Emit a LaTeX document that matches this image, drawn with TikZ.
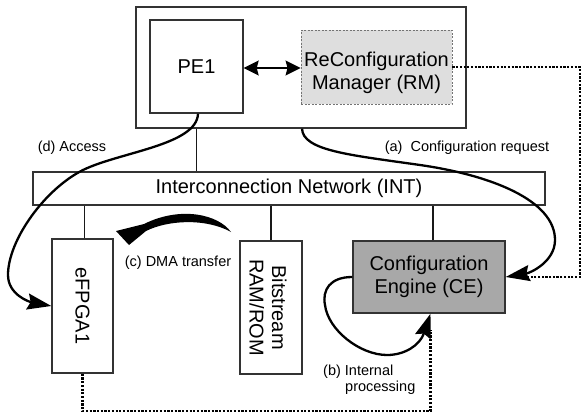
\documentclass[tikz,border=0pt]{standalone}
\usepackage{fontspec}
\setmainfont{Liberation Sans}
\usetikzlibrary{arrows.meta,calc}

\begin{document}
\begin{tikzpicture}[x=1pt,y=-1pt,
  box/.style={draw=black!80,line width=1.4pt,inner sep=0pt},
  big/.style={font=\fontsize{20}{22.5}\selectfont,inner sep=0pt},
  small/.style={font=\fontsize{14.5}{16}\selectfont,inner sep=0pt},
  link/.style={line width=1.9pt,draw=black!90},
  flow/.style={line width=2.3pt,-{Stealth[length=24pt,width=16pt,inset=3pt]}},
  dots/.style={line width=2.2pt,dash pattern=on 2.2pt off 1.5pt},
]
\useasboundingbox (0,0) rectangle (583,415);

% host with processing element and reconfiguration manager
\node[box,minimum width=330pt,minimum height=121pt] (host) at (301,67.5) {};
\node[box,big,minimum width=93pt,minimum height=93pt] (PE1) at (196.5,66.5) {PE1};
\node[draw=black!55,dash pattern=on 2pt off 1.5pt,line width=0.9pt,fill=black!13,
      minimum width=151pt,minimum height=74pt,inner sep=0pt] (RM) at (376.5,67) {};
\node[big,align=center] (RMtext) at ([yshift=-6pt]RM.center) {ReConfiguration\\Manager (RM)};

% interconnection network
\node[box,big,minimum width=512pt,minimum height=33pt] (INT) at (289,188.5) {Interconnection Network (INT)};

% attached units
\node[box,minimum width=61pt,minimum height=134pt] (eFPGA) at (82.5,306) {};
\node[big,rotate=-90] (eFPGAtext) at (eFPGA.center) {eFPGA1};
\node[box,minimum width=62pt,minimum height=133pt] (ROM) at (271,307.5) {};
\node[big,rotate=-90,align=center] (ROMtext) at ([xshift=-3pt]ROM.center) {Bitstream\\RAM/ROM};
\node[box,big,fill=black!34,align=center,minimum width=152pt,minimum height=72pt] (CE) at (429,277) {Configuration\\Engine (CE)};

% bus connections
\draw[link] (PE1.south |- host.south) -- (PE1.south |- INT.north);
\draw[link] ([xshift=2pt]eFPGA.north) -- ([xshift=2pt]eFPGA.north |- INT.south);
\draw[link] (ROM.north) -- (ROM.north |- INT.south);
\draw[link] ([xshift=4pt]CE.north) -- ([xshift=4pt]CE.north |- INT.south);

% PE1 <-> RM
\draw[line width=1.2pt,{Stealth[length=15pt,width=15pt,inset=2pt]}-{Stealth[length=15pt,width=15pt,inset=2pt]}]
  ([yshift=-1.5pt]PE1.east) -- ([yshift=-1pt]RM.west);

% dotted control paths
\coordinate (rmcorner) at (580,67);
\coordinate (bottomrun) at (0,411);
\coordinate (CEin) at ([xshift=1.5pt]CE.south);
\draw[dots] (RM.east) -- (rmcorner) -- (rmcorner |- CE.east) -- ([xshift=14pt]CE.east);
\draw[dots] (eFPGA.south) |- (CEin |- bottomrun) -- ([yshift=-16pt]CEin);

% (a) configuration request
\draw[flow] ([xshift=1pt]host.south) .. controls +(1,22) and (350,155) .. (420,165)
  .. controls (490,175) and (555,200) .. (555,240)
  .. controls (555,262) and (530,273) .. (CE.east);

% (d) access
\draw[flow] ([xshift=1.5pt]PE1.south) .. controls (197,145) and (120,152) .. (83,170)
  .. controls (45,189) and (8,240) .. (8,275)
  .. controls (8,295) and (30,302) .. (eFPGA.west);

% (b) internal processing loop
\draw[flow] (CE.west) .. controls (330,277) and (322,290) .. (325,305)
  .. controls (328,330) and (360,355) .. (387,355)
  .. controls (405,355) and (420,345) .. (CEin);

% (c) DMA transfer arrow: tapered arc with a head at its left end
\fill (231,232) .. controls (218,214) and (180,206) .. (144,224) -- (116,231) -- (129,245)
  -- (146,231) .. controls (168,220) and (206,218) .. (231,232) -- cycle;

% labels
\node[small] (lblD) at (72,148) {(d) Access};
\node[small] (lblA) at (467,148) {(a)\ \ Configuration request};
\node[small] (lblC) at (178,263) {(c) DMA transfer};
\node[small,align=left,anchor=west] (lblB) at (323,380) {(b) Internal\\\hspace*{22pt}processing};
\end{tikzpicture}
\end{document}
